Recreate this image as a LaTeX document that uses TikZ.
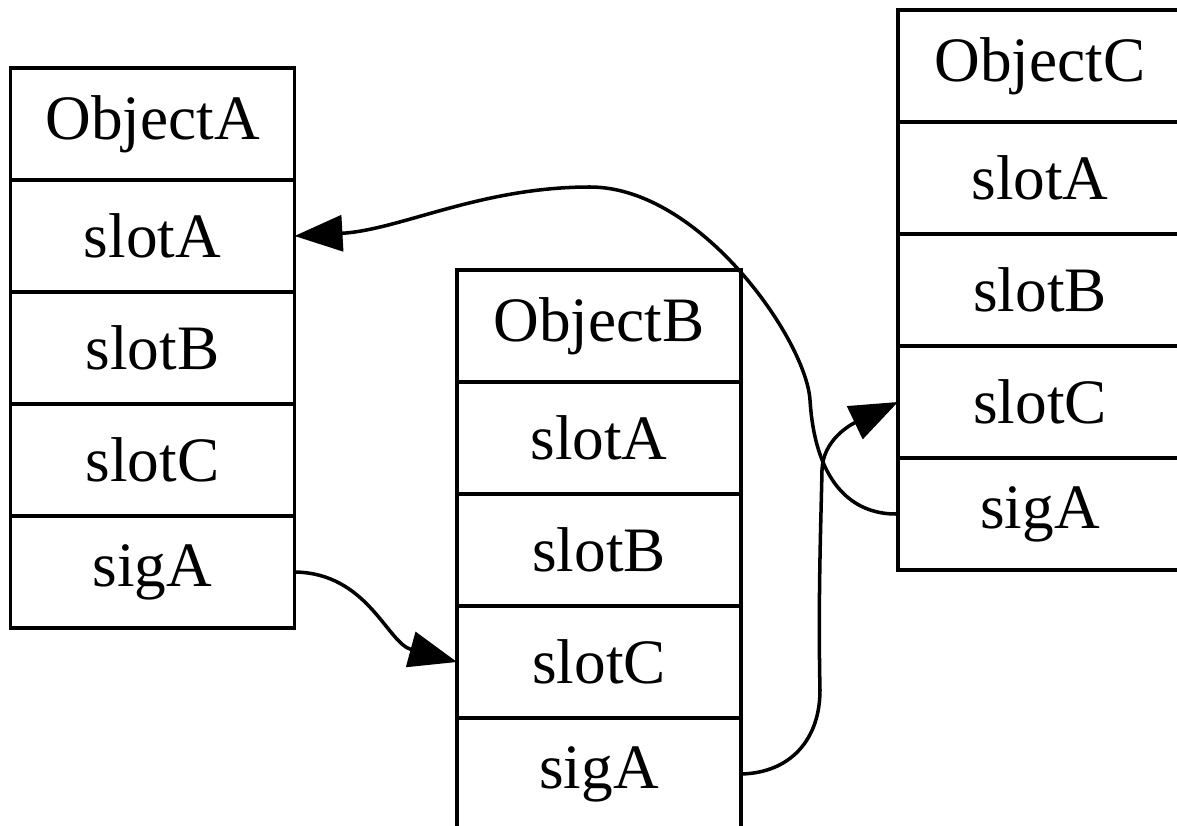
\documentclass[tikz,border=0pt]{standalone}
\usepackage{fontspec}
\setmainfont{Liberation Serif}
\usepackage{tikz}
\usetikzlibrary{arrows.meta}
\tikzstyle{field}=[rectangle,draw,line width=0.9pt,minimum width=2.84cm,minimum height=1.12cm,inner sep=0pt,outer sep=0pt,font=\fontsize{18}{20}\selectfont]
\tikzstyle{link}=[draw,line width=1pt,-{Triangle[length=4.8mm,width=3.6mm]}]

\begin{document}
\begin{tikzpicture}[scale=1.]
    \useasboundingbox (0,0) rectangle (11.77,-8.26);
    % the three records, one field per node
    \foreach \pos/\name/\label in {{(1.525,-1.24)/Ahead/ObjectA}, {(1.525,-2.36)/AslotA/slotA},
    {(1.525,-3.48)/AslotB/slotB}, {(1.525,-4.60)/AslotC/slotC}, {(1.525,-5.72)/AsigA/sigA},
    {(5.99,-3.26)/Bhead/ObjectB}, {(5.99,-4.38)/BslotA/slotA},
    {(5.99,-5.50)/BslotB/slotB}, {(5.99,-6.62)/BslotC/slotC}, {(5.99,-7.74)/BsigA/sigA},
    {(10.40,-0.66)/Chead/ObjectC}, {(10.40,-1.78)/CslotA/slotA},
    {(10.40,-2.90)/CslotB/slotB}, {(10.40,-4.02)/CslotC/slotC}, {(10.40,-5.14)/CsigA/sigA}}
        \node[field] (\name) at \pos {\label};

    % signal to slot connections
    \path[link] (AsigA.east) .. controls (3.68,-5.73) and (3.87,-6.43) .. (BslotC.west);
    \path[link] (BsigA.east) .. controls (7.90,-7.73) and (8.20,-7.40) .. (8.20,-6.90)
        .. controls (8.18,-6.00) and (8.21,-5.20) .. (8.22,-4.70)
        .. controls (8.23,-4.40) and (8.50,-4.25) .. (CslotC.west);
    \path[link] (CsigA.west) .. controls (8.50,-5.15) and (8.15,-4.80) .. (8.10,-4.00)
        .. controls (8.06,-3.40) and (7.00,-1.87) .. (5.90,-1.87)
        .. controls (4.80,-1.87) and (4.00,-2.30) .. (AslotA.east);
\end{tikzpicture}
\end{document}
